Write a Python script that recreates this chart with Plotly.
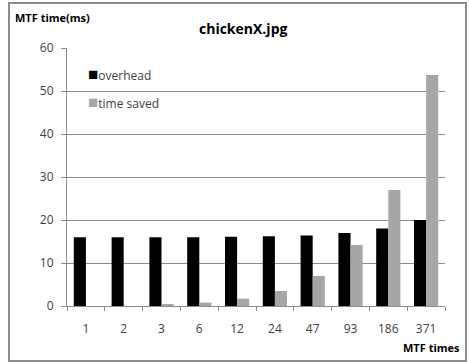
import plotly.graph_objects as go

# MTF call counts (category labels) and timings in milliseconds
mtf_times = ["1", "2", "3", "6", "12", "24", "47", "93", "186", "371"]
overhead = [16.0, 16.0, 16.0, 16.0, 16.1, 16.2, 16.4, 17.0, 18.0, 20.0]
time_saved = [0.0, 0.0, 0.3, 0.8, 1.7, 3.5, 7.0, 14.2, 27.0, 53.7]
series_names = ["overhead", "time saved"]
series_colors = ["#000000", "#a6a6a6"]

FONT = "Open Sans, Liberation Sans, sans-serif"

fig = go.Figure()
for name, vals, col in zip(series_names, [overhead, time_saved], series_colors):
    fig.add_trace(go.Bar(x=mtf_times, y=vals, name=name, showlegend=False,
                         marker=dict(color=col, line=dict(width=0))))

L, R, T, B = 67, 24, 48, 56
W, H = 469, 362
pw, ph = W - L - R, H - T - B

def px(x):
    return (x - L) / pw

def py(y):
    return (H - B - y) / ph

# compact legend: small coloured square right next to each label
legend_notes = []
for i, (name, col) in enumerate(zip(series_names, series_colors)):
    legend_notes.append(dict(
        text=f'<span style="color:{col};font-size:17px">■</span>{name}',
        xref="paper", yref="paper", x=px(86), y=py(74 + 27 * i),
        xanchor="left", yanchor="middle", showarrow=False,
        font=dict(size=12, color="#404040")))

fig.update_layout(
    width=W, height=H,
    margin=dict(l=L, r=R, t=T, b=B),
    paper_bgcolor="white", plot_bgcolor="white",
    barmode="group", bargap=0.36, bargroupgap=0.0,
    font=dict(family=FONT, size=12, color="#404040"),
    xaxis=dict(type="category", showgrid=False, showline=True,
               linecolor="#8c8c8c", linewidth=1,
               ticks="outside", tickson="boundaries", ticklen=4,
               ticklabelstandoff=12,
               tickcolor="#8c8c8c", tickfont=dict(size=12, color="#404040")),
    yaxis=dict(range=[0, 60], dtick=10, showgrid=True, gridcolor="#8c8c8c",
               gridwidth=1, showline=True, linecolor="#8c8c8c", linewidth=1,
               ticks="outside", ticklen=5, tickcolor="#8c8c8c",
               ticklabelstandoff=5,
               tickfont=dict(size=12, color="#404040"), zeroline=False),
    shapes=[dict(type="rect", xref="paper", yref="paper",
                 x0=px(9), x1=px(466), y0=py(361), y1=py(3),
                 line=dict(color="#8c8c8c", width=2), layer="below")],
    annotations=[
        dict(text="<b>chickenX.jpg</b>", xref="paper", yref="paper",
             x=px(243), y=py(28), yanchor="middle", showarrow=False,
             font=dict(size=14, color="#000000")),
        dict(text="<b>MTF time(ms)</b>", xref="paper", yref="paper",
             x=px(13), y=py(17), xanchor="left", yanchor="middle",
             showarrow=False, font=dict(size=11, color="#000000")),
        dict(text="<b>MTF times</b>", xref="paper", yref="paper",
             x=px(462), y=py(347), xanchor="right", yanchor="middle",
             showarrow=False, font=dict(size=11, color="#000000")),
    ] + legend_notes,
)

fig.write_html("out.html")
